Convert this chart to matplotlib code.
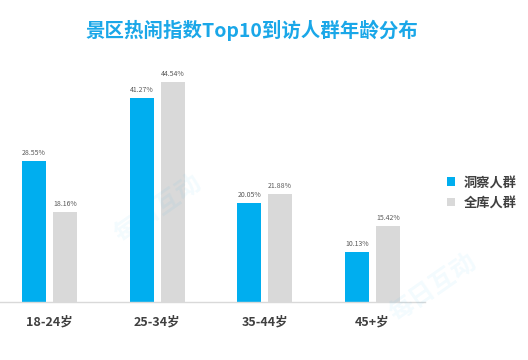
import matplotlib
matplotlib.use("Agg")
import matplotlib.pyplot as plt
import numpy as np

plt.rcParams['font.family'] = ['Noto Sans CJK SC', 'DejaVu Sans']

categories = ["18-24岁", "25-34岁", "35-44岁", "45+岁"]
insight = [28.55, 41.27, 20.05, 10.13]
all_users = [18.16, 44.54, 21.88, 15.42]
series_names = ["洞察人群", "全库人群"]

BLUE = "#00AEEF"
GRAY = "#D9D9D9"
TEXT = "#404040"

fig = plt.figure(figsize=(5.28, 3.6), dpi=100)
ax = fig.add_axes([0.0, 0.161, 0.805, 0.645])

x = np.arange(len(categories))
w = 0.223
off = 0.144
b1 = ax.bar(x - off, insight, w, color=BLUE, label=series_names[0])
b2 = ax.bar(x + off, all_users, w, color=GRAY, label=series_names[1])

for bars, vals in [(b1, insight), (b2, all_users)]:
    for b, v in zip(bars, vals):
        ax.text(b.get_x() + b.get_width() / 2, v + 0.8, "%.2f%%" % v,
                ha="center", va="bottom", fontsize=5, color="#595959")

ax.set_xlim(-0.46, 3.49)
ax.set_ylim(0, 47)
ax.set_xticks(x)
ax.set_xticklabels(categories, fontsize=9, fontweight="bold", color=TEXT)
ax.tick_params(axis="x", length=0, pad=10)
ax.set_yticks([])
for s in ["top", "right", "left"]:
    ax.spines[s].set_visible(False)
ax.spines["bottom"].set_color(GRAY)
ax.spines["bottom"].set_linewidth(1)

fig.text(0.478, 0.915, "景区热闹指数Top10到访人群年龄分布", ha="center", va="center",
         fontsize=14, fontweight="bold", color="#1AA7E8")

leg = fig.legend(handles=[b1, b2], loc="center left", bbox_to_anchor=(0.825, 0.465),
                 frameon=False, fontsize=9.5, handlelength=0.6, handleheight=0.6,
                 handletextpad=0.6, labelspacing=0.5)
for t in leg.get_texts():
    t.set_fontweight("bold")
    t.set_color(TEXT)

# faint watermark
for wx, wy in [(0.3, 0.42), (0.82, 0.2)]:
    fig.text(wx, wy, "每日互动", rotation=35, fontsize=18, fontweight="bold",
             color=BLUE, alpha=0.05, ha="center", va="center")

fig.savefig("out.png", dpi=100)
